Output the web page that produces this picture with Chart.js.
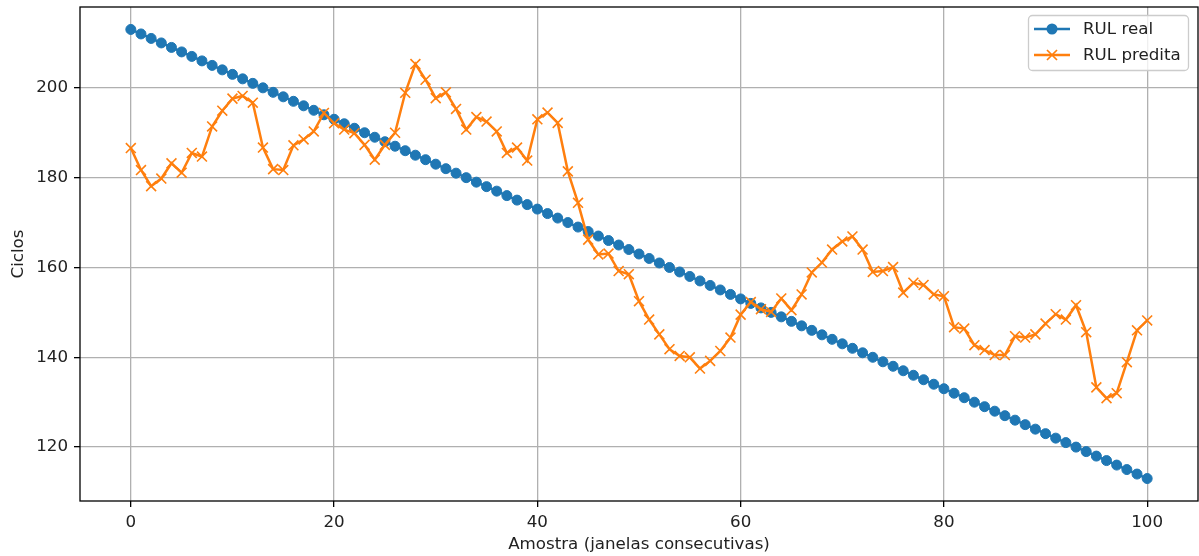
<!DOCTYPE html>
<html>
<head>
<meta charset="utf-8">
<script src="https://cdn.jsdelivr.net/npm/chart.js@4.4.0/dist/chart.umd.min.js"></script>
<style>
  html, body { margin: 0; padding: 0; background: #fff; }
  #wrap { width: 1199px; height: 556px; }
</style>
</head>
<body>
<div id="wrap"><canvas id="rulChart" width="1199" height="556"></canvas></div>
<script>
const samples = [0,1,2,3,4,5,6,7,8,9,10,11,12,13,14,15,16,17,18,19,20,21,22,23,24,25,26,27,28,29,30,
  31,32,33,34,35,36,37,38,39,40,41,42,43,44,45,46,47,48,49,50,51,52,53,54,55,56,57,58,59,60,
  61,62,63,64,65,66,67,68,69,70,71,72,73,74,75,76,77,78,79,80,81,82,83,84,85,86,87,88,89,90,
  91,92,93,94,95,96,97,98,99,100];

const rulReal = [213,212,211,210,209,208,207,206,205,204,203,202,201,200,199,198,197,196,195,194,
  193,192,191,190,189,188,187,186,185,184,183,182,181,180,179,178,177,176,175,174,
  173,172,171,170,169,168,167,166,165,164,163,162,161,160,159,158,157,156,155,154,
  153,152,151,150,149,148,147,146,145,144,143,142,141,140,139,138,137,136,135,134,
  133,132,131,130,129,128,127,126,125,124,123,122,121,120,119,118,117,116,115,114,113];

const rulPred = [186.6,181.7,178.1,179.8,183.2,181.1,185.5,184.7,191.4,194.9,
  197.6,198.2,196.7,186.7,181.9,181.7,187.2,188.5,190.3,194.4,
  192.1,190.7,189.9,187.3,184.0,187.3,190.0,198.9,205.3,201.8,
  197.7,199.0,195.3,190.7,193.5,192.5,190.3,185.5,186.7,183.8,
  193.0,194.5,192.2,181.4,174.4,166.2,162.9,163.1,159.2,158.5,
  152.5,148.4,145.1,141.8,140.3,140.0,137.5,139.2,141.4,144.4,
  149.5,152.3,150.7,150.1,153.1,150.5,154.0,158.9,161.1,164.0,
  165.8,166.9,164.0,159.0,159.2,160.1,154.4,156.6,156.1,154.0,
  153.6,146.7,146.4,142.7,141.6,140.5,140.5,144.7,144.4,145.1,
  147.5,149.6,148.4,151.6,145.6,133.3,130.9,132.0,138.9,146.0,148.2];

const xTicks = [0, 20, 40, 60, 80, 100];
const yTicks = [120, 140, 160, 180, 200];

const BLUE = '#1f77b4', ORANGE = '#ff7f0e';
const FONT = { family: 'DejaVu Sans', size: 16.7 };

// full matplotlib-style box around the plot area
const framePlugin = {
    id: 'frame',
    afterDatasetsDraw(chart) {
        const { ctx, chartArea: a } = chart;
        ctx.save();
        ctx.strokeStyle = '#000'; ctx.lineWidth = 1.3;
        ctx.strokeRect(a.left, a.top, a.right - a.left, a.bottom - a.top);
        ctx.restore();
    }
};

// legend box inside the top-right corner
const legendPlugin = {
    id: 'boxLegend',
    afterDraw(chart) {
        const ctx = chart.ctx;
        const x0 = 1028, y0 = 15, w = 160, h = 55;
        ctx.save();
        ctx.beginPath(); ctx.roundRect(x0 + 0.5, y0 + 0.5, w, h, 4);
        ctx.fillStyle = 'rgba(255,255,255,0.8)'; ctx.fill();
        ctx.strokeStyle = '#cccccc'; ctx.lineWidth = 1.3; ctx.stroke();
        chart.data.datasets.forEach((ds, i) => {
            const y = 29 + i * 26;
            ctx.strokeStyle = ds.borderColor; ctx.lineWidth = 2.5;
            ctx.beginPath(); ctx.moveTo(1034, y); ctx.lineTo(1070, y); ctx.stroke();
            if (ds.pointStyle === 'circle') {
                ctx.fillStyle = ds.borderColor;
                ctx.beginPath(); ctx.arc(1052, y, 5.5, 0, Math.PI * 2); ctx.fill();
            } else {
                ctx.lineWidth = 1.7;
                ctx.beginPath();
                ctx.moveTo(1047, y - 5); ctx.lineTo(1057, y + 5);
                ctx.moveTo(1047, y + 5); ctx.lineTo(1057, y - 5);
                ctx.stroke();
            }
            ctx.fillStyle = '#222';
            ctx.font = `${FONT.size}px ${FONT.family}`;
            ctx.textBaseline = 'middle';
            ctx.fillText(ds.label, 1083, y + 1);
        });
        ctx.restore();
    }
};

function noPad(s) { s.paddingTop = 0; s.paddingBottom = 0; s.paddingLeft = 0; s.paddingRight = 0; }

function axisStyle(ticks, min, max) {
    return {
        type: 'linear', min: min, max: max,
        afterBuildTicks: s => { s.ticks = ticks.map(v => ({ value: v })); },
        grid: { color: '#b0b0b0', lineWidth: 1.3, tickColor: '#000', tickLength: 6, drawTicks: true },
        border: { display: false },
        ticks: { color: '#222', font: FONT, padding: 6, maxRotation: 0 }
    };
}

const xAxis = axisStyle(xTicks, -5, 105);
xAxis.title = { display: true, text: 'Amostra (janelas consecutivas)', color: '#222', font: FONT, padding: { top: 0, bottom: 1 } };
xAxis.afterFit = s => { s.height = 55; noPad(s); };

const yAxis = axisStyle(yTicks, 108, 218);
yAxis.title = { display: true, text: 'Ciclos', color: '#222', font: FONT, padding: { top: 8.5, bottom: 0 } };
yAxis.afterFit = s => { s.width = 80; noPad(s); };

new Chart(document.getElementById('rulChart'), {
    type: 'line',
    data: {
        datasets: [
            { label: 'RUL real', data: samples.map((s, i) => ({ x: s, y: rulReal[i] })),
              borderColor: BLUE, backgroundColor: BLUE, borderWidth: 2.5,
              pointStyle: 'circle', pointRadius: 5, pointBorderWidth: 1,
              pointBackgroundColor: BLUE, pointBorderColor: BLUE, order: 2 },
            { label: 'RUL predita', data: samples.map((s, i) => ({ x: s, y: rulPred[i] })),
              borderColor: ORANGE, backgroundColor: ORANGE, borderWidth: 2.5,
              pointStyle: 'crossRot', pointRadius: 7, pointBorderWidth: 1.6,
              pointBorderColor: ORANGE, order: 1 }
        ]
    },
    options: {
        responsive: false, animation: false, events: [],
        layout: { autoPadding: false, padding: { top: 7, right: 1, left: 0, bottom: 0 } },
        plugins: { legend: { display: false }, tooltip: { enabled: false } },
        scales: { x: xAxis, y: yAxis }
    },
    plugins: [framePlugin, legendPlugin]
});
</script>
</body>
</html>
